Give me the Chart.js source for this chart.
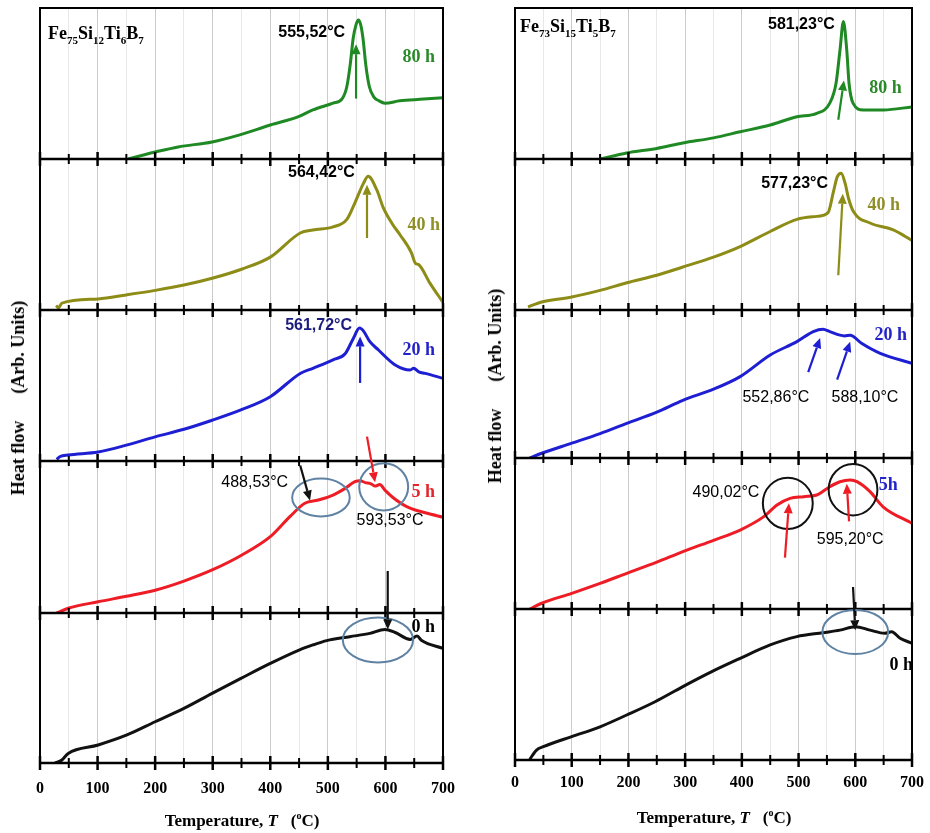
<!DOCTYPE html>
<html>
<head>
<meta charset="UTF-8">
<title>DSC curves of milled Fe-Si-Ti-B powders</title>
<script src="https://cdn.jsdelivr.net/npm/chart.js@4.4.0/dist/chart.umd.min.js"></script>
<style>
  body { margin: 0; background: #fff; width: 930px; height: 833px; position: relative; overflow: hidden; }
  canvas { position: absolute; top: 0; }
  #leftChart { left: 0; }
  #rightChart { left: 470px; }
  .txt { position: absolute; font-family: "Liberation Serif", serif; font-weight: bold; color: #000; white-space: pre; line-height: 1; }
  .comp { font-size: 18px; transform: translateY(-50%); }
  .comp sub { font-size: 11px; vertical-align: -5px; }
  .ytitle { font-size: 18px; transform: translate(-50%, -50%) rotate(-90deg); }
  .xtitle { font-size: 17px; transform: translate(-50%, -50%); }
  .xtitle sup { font-size: 10px; vertical-align: 7px; }
</style>
</head>
<body>
<canvas id="leftChart" width="470" height="833"></canvas>
<canvas id="rightChart" width="460" height="833"></canvas>

<div class="txt comp" style="left:48px; top:35px;">Fe<sub>75</sub>Si<sub>12</sub>Ti<sub>6</sub>B<sub>7</sub></div>
<div class="txt comp" style="left:520px; top:28px;">Fe<sub>73</sub>Si<sub>15</sub>Ti<sub>5</sub>B<sub>7</sub></div>
<div class="txt ytitle" style="left:18px; top:398px;">Heat flow      (Arb. Units)</div>
<div class="txt ytitle" style="left:495px; top:386px;">Heat flow      (Arb. Units)</div>
<div class="txt xtitle" style="left:242px; top:820px;">Temperature, <i>T</i>   (<sup>o</sup>C)</div>
<div class="txt xtitle" style="left:714px; top:817px;">Temperature, <i>T</i>   (<sup>o</sup>C)</div>

<script>
// milling times, top row first
const times = ['80 h', '40 h', '20 h', '5 h', '0 h'];
const tickTemps = [0, 50, 100, 150, 200, 250, 300, 350, 400, 450, 500, 550, 600, 650, 700];

// ---- Fe75Si12Ti6B7 ----
const l80T = [153, 183, 200, 240, 299, 347, 400, 449, 474, 509, 525, 533, 539, 544, 549, 553, 557, 561, 566, 572, 580, 589, 599, 625, 660, 700];
const l80Q = [0, 3, 4.6, 8, 11.3, 16, 22.5, 28, 32.5, 37, 40, 48, 63, 80, 89, 92, 89, 80, 62, 48, 41, 38.5, 37, 38.5, 39.5, 40.5];
const l40T = [28, 32, 38, 101, 150, 200, 250, 299, 350, 400, 452, 474, 509, 533, 547, 562, 570, 585, 596, 612, 625, 645, 652, 658, 677, 700];
const l40Q = [3, 1.5, 4.5, 7.3, 10, 13, 16.5, 21, 27, 35, 51, 53, 55, 60, 71, 84, 88.5, 79.5, 68, 57, 50, 38, 31, 30, 18, 5];
const l20T = [29, 35, 49, 101, 150, 200, 250, 299, 350, 400, 452, 474, 509, 530, 544, 555, 562, 573, 588, 617, 643, 649, 658, 669, 700];
const l20Q = [1, 3, 4, 6, 10.5, 16, 21, 27, 34, 42.6, 58, 61.4, 67, 71, 81, 88, 86, 79, 73.5, 63.6, 60.3, 61.4, 59, 58, 54.8];
const l5T = [29, 49, 101, 150, 200, 250, 299, 350, 400, 434, 460, 483, 509, 530, 547, 556, 565, 575, 582, 590, 600, 613, 637, 700];
const l5Q = [0, 3.1, 7.4, 11, 15, 21, 28.3, 38, 50.2, 63.4, 72.2, 74.3, 77.6, 82, 86.4, 87, 85.8, 85, 83.5, 84.5, 80.5, 76, 70, 63];
const l0T = [26, 38, 49, 101, 151, 200, 250, 299, 349, 400, 450, 474, 498, 538, 573, 599, 617, 643, 655, 663, 700];
const l0Q = [0, 2, 6.4, 12, 18.7, 27.5, 36.4, 46.4, 56.4, 66.4, 75.3, 78.7, 81.6, 84.2, 86.4, 89, 87, 82.4, 84.6, 81.6, 76.4];

// ---- Fe73Si15Ti5B7 ----
const r80T = [150, 197, 250, 296, 350, 397, 450, 497, 532, 555, 566, 573, 579, 585, 589, 596, 614, 650, 700];
const r80Q = [0, 4, 7, 10.6, 14, 18, 22.5, 28, 30.2, 37, 50, 72, 91, 72, 50, 37, 32.5, 32.5, 34.5];
const r40T = [23, 47, 100, 150, 197, 250, 296, 350, 397, 450, 497, 532, 552, 561, 568, 575, 582, 588, 597, 626, 667, 700];
const r40Q = [2, 5.3, 8.6, 13, 18, 23, 28.5, 35, 42, 52, 60, 62, 64.5, 77.5, 88, 90.5, 84, 74, 65, 57.6, 53, 46];
const r20T = [26, 47, 100, 150, 197, 250, 296, 350, 397, 450, 497, 526, 543, 555, 573, 581, 591, 611, 644, 700];
const r20Q = [0, 3.2, 10, 16.5, 23.4, 31, 39, 46.5, 55, 69.6, 78.6, 85.4, 87, 85.4, 83, 82.5, 83, 77.5, 70.7, 64];
const r5T = [26, 47, 100, 150, 197, 250, 296, 350, 397, 438, 462, 485, 509, 532, 555, 573, 591, 603, 626, 649, 700];
const r5Q = [0, 3.8, 10.4, 17, 23.6, 31, 38, 45.5, 52.3, 61, 68.9, 73.3, 74.4, 75.5, 81, 84.3, 85.4, 84.3, 77.7, 67.7, 56.7];
const r0T = [26, 38, 50, 100, 150, 197, 247, 296, 347, 397, 450, 497, 543, 573, 600, 626, 652, 664, 679, 700];
const r0Q = [0.4, 6.6, 8.8, 15.5, 22, 29.8, 38.6, 48.6, 58.5, 67.3, 76.2, 81.7, 84.3, 86, 88.3, 86, 83.9, 85, 80.6, 77.3];

const lineColors = ['#1f8a24', '#8c8c16', '#1e1ed2', '#ee1c24', '#111111'];
const SANS = '"Liberation Sans", Arial, sans-serif';
const SERIF = '"Liberation Serif", "Times New Roman", serif';

// annotation helpers, positions in (temperature, heat flow) of a row
function label(row, t, v, text, align, color, font) {
  return { kind: 'text', row, t, v, text, align, color, font };
}
function arrow(row, t1, v1, t2, v2, color) {
  return { kind: 'arrow', row, t1, v1, t2, v2, color };
}
function ring(row, t, v, rt, rv, color) {
  return { kind: 'ellipse', row, t, v, rt, rv, color };
}
const peakBold = 'bold 16px ' + SANS;
const peakReg = '16px ' + SANS;
const rowFont = 'bold 18px ' + SERIF;
const ringBlue = '#5f82a3';

const leftNotes = [
  label(0, 530, 83.4, '555,52°C', 'right', '#000', peakBold),
  arrow(0, 549, 40, 549, 76, lineColors[0]),
  label(0, 686, 67.5, times[0], 'right', '#2a8a2a', rowFont),
  label(1, 547, 90.7, '564,42°C', 'right', '#000', peakBold),
  arrow(1, 568, 47.7, 568, 83, lineColors[1]),
  label(1, 695, 56, times[1], 'right', '#8f8f2a', rowFont),
  label(2, 542, 90, '561,72°C', 'right', '#1c1c80', peakBold),
  arrow(2, 556, 51.7, 556, 82.5, lineColors[2]),
  label(2, 686, 73.5, times[2], 'right', '#2323c8', rowFont),
  ring(3, 488, 76, 50, 12.5, ringBlue),
  ring(3, 597, 83, 42.5, 15.5, ringBlue),
  arrow(3, 452, 97, 469, 74, '#111'),
  arrow(3, 568, 116, 582, 86, lineColors[3]),
  label(3, 431, 85.5, '488,53°C', 'right', '#000', peakReg),
  label(3, 608, 61, '593,53°C', 'center', '#000', peakReg),
  label(3, 686, 79.6, times[3], 'right', '#e3262a', rowFont),
  ring(4, 587, 82, 61, 15, ringBlue),
  arrow(4, 604, 128, 604, 89, '#111'),
  label(4, 686, 90.7, times[4], 'right', '#000', rowFont)
];
const rightNotes = [
  label(0, 564, 88.7, '581,23°C', 'right', '#000', peakBold),
  arrow(0, 570, 26, 580, 52, lineColors[0]),
  label(0, 682, 47, times[0], 'right', '#2a8a2a', rowFont),
  label(1, 552, 84, '577,23°C', 'right', '#000', peakBold),
  arrow(1, 570, 23, 578, 77, lineColors[1]),
  label(1, 679, 69.5, times[1], 'right', '#8f8f2a', rowFont),
  arrow(2, 517, 58, 538, 81, lineColors[2]),
  arrow(2, 568, 53, 591, 78.5, lineColors[2]),
  label(2, 460, 41, '552,86°C', 'center', '#000', peakReg),
  label(2, 617, 41, '588,10°C', 'center', '#000', peakReg),
  label(2, 691, 83, times[2], 'right', '#2323c8', rowFont),
  ring(3, 481, 70, 44, 17, '#111'),
  ring(3, 596, 79, 43, 17, '#111'),
  arrow(3, 476, 34, 483, 70, lineColors[3]),
  arrow(3, 589, 58, 585, 83, lineColors[3]),
  label(3, 372, 77, '490,02°C', 'center', '#000', peakReg),
  label(3, 591, 46, '595,20°C', 'center', '#000', peakReg),
  label(3, 675, 82, '5h', 'right', '#2323c8', rowFont),
  ring(4, 600, 84.8, 58, 14.6, ringBlue),
  arrow(4, 596, 114.6, 600, 86, '#111'),
  label(4, 702, 63, times[4], 'right', '#000', rowFont)
];

function pairs(ts, qs) {
  return ts.map((t, i) => ({ x: t, y: qs[i] }));
}

// black frame, row separators and ticks crossing each separator
const framePlugin = {
  id: 'frame',
  afterDraw(chart) {
    const ctx = chart.ctx, a = chart.chartArea, xs = chart.scales.x;
    ctx.save();
    ctx.strokeStyle = '#000';
    ctx.lineWidth = 2;
    ctx.strokeRect(a.left, a.top, a.right - a.left, a.bottom - a.top);
    for (let i = 0; i < times.length; i++) {
      const ys = chart.scales['r' + i];
      const y = ys.bottom;
      ctx.lineWidth = 2.5;
      ctx.beginPath();
      ctx.moveTo(a.left, y);
      ctx.lineTo(a.right, y);
      ctx.stroke();
      tickTemps.forEach(t => {
        const px = xs.getPixelForValue(t);
        const major = t % 100 === 0;
        const len = major ? 7 : 5;
        ctx.lineWidth = major ? 2.5 : 2;
        ctx.beginPath();
        ctx.moveTo(px, y - len);
        ctx.lineTo(px, y + len);
        ctx.stroke();
      });
    }
    ctx.restore();
  }
};

function notesPlugin(items) {
  return {
    id: 'notes',
    afterDraw(chart) {
      const ctx = chart.ctx, xs = chart.scales.x;
      ctx.save();
      items.forEach(n => {
        const ys = chart.scales['r' + n.row];
        if (n.kind === 'text') {
          ctx.font = n.font;
          ctx.fillStyle = n.color;
          ctx.textAlign = n.align;
          ctx.textBaseline = 'middle';
          ctx.fillText(n.text, xs.getPixelForValue(n.t), ys.getPixelForValue(n.v));
        } else if (n.kind === 'ellipse') {
          const cx = xs.getPixelForValue(n.t), cy = ys.getPixelForValue(n.v);
          const rx = xs.getPixelForValue(n.t + n.rt) - cx;
          const ry = cy - ys.getPixelForValue(n.v + n.rv);
          ctx.strokeStyle = n.color;
          ctx.lineWidth = 2;
          ctx.beginPath();
          ctx.ellipse(cx, cy, rx, ry, 0, 0, Math.PI * 2);
          ctx.stroke();
        } else {
          const x1 = xs.getPixelForValue(n.t1), y1 = ys.getPixelForValue(n.v1);
          const x2 = xs.getPixelForValue(n.t2), y2 = ys.getPixelForValue(n.v2);
          const ang = Math.atan2(y2 - y1, x2 - x1);
          const head = 10, half = 4.5;
          const bx = x2 - head * Math.cos(ang), by = y2 - head * Math.sin(ang);
          ctx.strokeStyle = n.color;
          ctx.fillStyle = n.color;
          ctx.lineWidth = 2.2;
          ctx.beginPath();
          ctx.moveTo(x1, y1);
          ctx.lineTo(bx, by);
          ctx.stroke();
          ctx.beginPath();
          ctx.moveTo(x2, y2);
          ctx.lineTo(bx + half * Math.sin(ang), by - half * Math.cos(ang));
          ctx.lineTo(bx - half * Math.sin(ang), by + half * Math.cos(ang));
          ctx.closePath();
          ctx.fill();
        }
      });
      ctx.restore();
    }
  };
}

function buildScales(rowWeights, axisHeight, labelPad) {
  const scales = {
    x: {
      type: 'linear', position: 'bottom', min: 0, max: 700,
      ticks: {
        stepSize: 50, autoSkip: false, maxRotation: 0, padding: labelPad, color: '#000',
        font: { family: SERIF, weight: 'bold', size: 16 },
        callback: v => (v % 100 === 0 ? v : '')
      },
      grid: {
        drawTicks: false, lineWidth: 1,
        color: c => (c.tick && c.tick.value % 100 === 0 ? '#cbcbcb' : '#e8e8e8')
      },
      border: { display: false },
      afterFit: s => { s.height = axisHeight; s.paddingLeft = 0; s.paddingRight = 0; }
    }
  };
  rowWeights.forEach((w, i) => {
    scales['r' + i] = {
      type: 'linear', position: 'left', stack: 'rows', stackWeight: w, weight: 10 - i,
      min: 0, max: 100, offset: false,
      ticks: { display: false },
      grid: { display: false, drawTicks: false },
      border: { display: false },
      afterFit: s => { s.width = 0; }
    };
  });
  return scales;
}

function makeChart(id, series, rowWeights, padding, axisHeight, labelPad, notes) {
  return new Chart(document.getElementById(id), {
    type: 'line',
    data: {
      datasets: series.map((s, i) => ({
        label: times[i],
        data: pairs(s[0], s[1]),
        yAxisID: 'r' + i,
        borderColor: lineColors[i],
        borderWidth: 3,
        pointRadius: 0,
        fill: false,
        cubicInterpolationMode: 'monotone'
      }))
    },
    options: {
      responsive: false,
      animation: false,
      layout: { padding },
      plugins: { legend: { display: false }, tooltip: { enabled: false } },
      scales: buildScales(rowWeights, axisHeight, labelPad)
    },
    plugins: [framePlugin, notesPlugin(notes)]
  });
}

makeChart('leftChart',
  [[l80T, l80Q], [l40T, l40Q], [l20T, l20Q], [l5T, l5Q], [l0T, l0Q]],
  [151, 151, 151, 152, 150], { left: 40, top: 8, right: 27, bottom: 0 }, 70, 16, leftNotes);

makeChart('rightChart',
  [[r80T, r80Q], [r40T, r40Q], [r20T, r20Q], [r5T, r5Q], [r0T, r0Q]],
  [151, 151, 148, 151, 151], { left: 45, top: 8, right: 18, bottom: 0 }, 73, 13, rightNotes);
</script>
</body>
</html>
